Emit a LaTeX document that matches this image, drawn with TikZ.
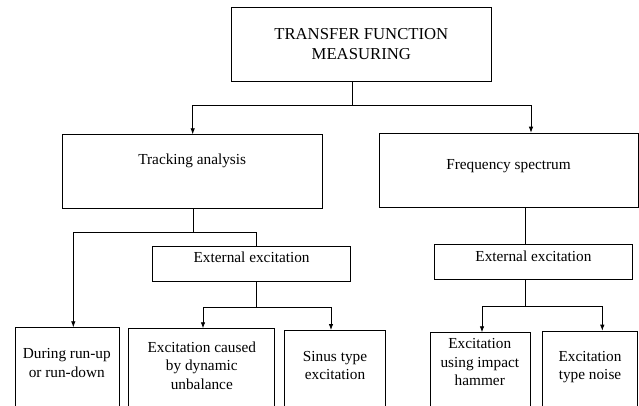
\documentclass[tikz,border=0pt]{standalone}
\usepackage{fontspec}
\setmainfont{Liberation Serif}
\usetikzlibrary{arrows.meta}

\begin{document}
\begin{tikzpicture}[x=1pt, y=-1pt, line width=0.8pt, >={Latex[length=6pt,width=4.5pt]},
  box/.style={draw, rectangle, inner sep=0pt, font=\fontsize{15.3}{18.4}\selectfont},
  cell/.style={draw, rectangle, anchor=north, minimum height=90pt, inner sep=0pt},
  txt/.style={align=center, inner sep=0pt, font=\fontsize{15.3}{18.4}\selectfont}]
\useasboundingbox (0,0) rectangle (639,405);

\node[box, minimum width=259.3pt, minimum height=74pt, align=center, font=\fontsize{16.7}{20}\selectfont] (tfm) at (361.3,44.3) {TRANSFER FUNCTION\\MEASURING};

\node[box, anchor=north, minimum width=259.7pt, text height=30pt, text depth=44pt] (track) at (192.2,134.3) {Tracking analysis};
\node[box, anchor=north, minimum width=259pt, text height=36.6pt, text depth=37.4pt] (freq) at (508.5,132.7) {Frequency spectrum};

\node[box, anchor=north, minimum width=197.6pt, text height=16.3pt, text depth=18.7pt] (extl) at (251.6,245.7) {External excitation};
\node[box, anchor=north, minimum width=198pt, text height=16.7pt, text depth=18.3pt] (extr) at (533.4,244.3) {External excitation};

\node[cell, minimum width=104.1pt] (during) at (67.35,327.3) {};
\node[cell, minimum width=145.5pt] (caused) at (201.25,328.3) {};
\node[cell, minimum width=100.6pt] (sinus) at (334.7,330) {};
\node[cell, minimum width=100pt] (using) at (480,332.3) {};
\node[cell, minimum width=94.7pt] (noise) at (590.1,330.7) {};

\node[txt] (during-t) at (66.8,363) {During run-up\\or run-down};
\node[txt] (caused-t) at (201.8,365.7) {Excitation caused\\by dynamic\\unbalance};
\node[txt] (sinus-t) at (335,365.2) {Sinus type\\excitation};
\node[txt] (using-t) at (479.8,362.2) {Excitation\\using impact\\hammer};
\node[txt] (noise-t) at (590,367.2) {Excitation\\type noise};

\coordinate (tfm-j) at (352.3,105);
\coordinate (tfm-l) at (192.7,105);
\coordinate (tfm-r) at (531,105);
\coordinate (track-j) at (193.6,232.7);
\coordinate (track-l) at (73.3,232.7);
\coordinate (track-r) at (256.7,232.7);
\coordinate (extl-j) at (256.7,307.3);
\coordinate (extl-l) at (203,307.3);
\coordinate (extl-r) at (331,307.3);
\coordinate (extr-j) at (525.7,306.7);
\coordinate (extr-l) at (482,306.7);
\coordinate (extr-r) at (602.3,306.7);

\draw (tfm.south -| tfm-j) -- (tfm-j);
\draw[<->] (tfm-l |- track.north) -- (tfm-l) -- (tfm-r) -- (tfm-r |- freq.north);

\draw (track.south -| track-j) -- (track-j);
\draw[->] (track-r |- extl.north) -- (track-r) -- (track-l) -- (track-l |- during.north);

\draw (extl.south -| extl-j) -- (extl-j);
\draw[<->] (extl-l |- caused.north) -- (extl-l) -- (extl-r) -- (extl-r |- sinus.north);

\draw (freq.south -| extr-j) -- (extr-j |- extr.north);
\draw (extr.south -| extr-j) -- (extr-j);
\draw[<->] (extr-l |- using.north) -- (extr-l) -- (extr-r) -- (extr-r |- noise.north);
\end{tikzpicture}
\end{document}
